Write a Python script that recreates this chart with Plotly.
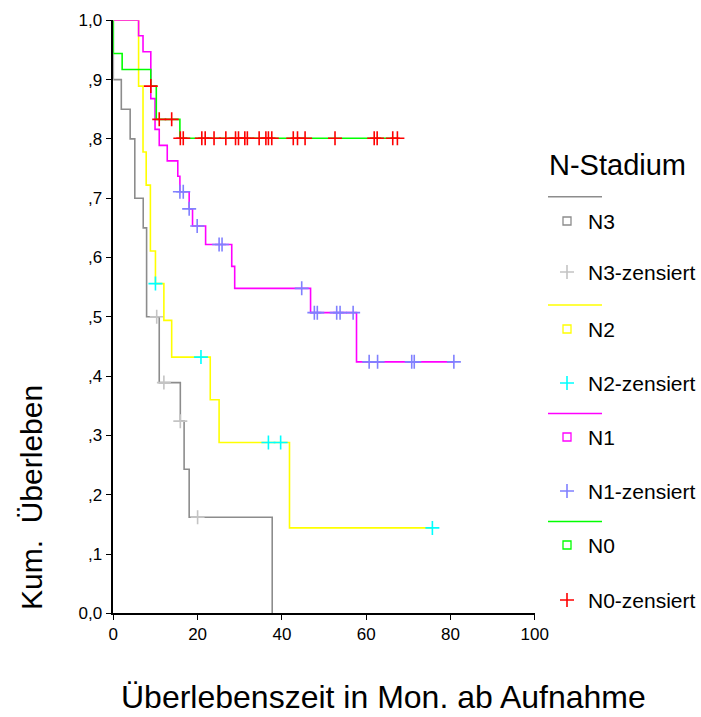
import plotly.graph_objects as go

# Kaplan-Meier estimates per N-stage: event times (months) and survival after each event
n3_times = [0.0, 1.9, 4.0, 5.1, 7.1, 7.9, 10.9, 15.9, 16.8, 18.0, 37.7]
n3_surv = [0.90, 0.85, 0.80, 0.70, 0.65, 0.50, 0.389, 0.324, 0.243, 0.162, 0.0]
n3_censored = [10.3, 12.0, 15.9, 20.0]

n2_times = [6.0, 7.05, 7.8, 8.8, 10.0, 12.0, 13.85, 23.0, 25.1, 41.8]
n2_surv = [0.889, 0.778, 0.722, 0.611, 0.556, 0.494, 0.432, 0.360, 0.288, 0.144]
n2_censored = [10.0, 20.8, 36.8, 39.7, 75.7]

n1_times = [6.0, 7.05, 8.9, 9.9, 10.9, 12.8, 15.3, 15.8, 18.0, 18.8, 21.9, 28.1, 28.8, 46.8, 57.7]
n1_surv = [0.974, 0.947, 0.868, 0.816, 0.789, 0.763, 0.737, 0.711, 0.682, 0.653, 0.622,
           0.585, 0.548, 0.507, 0.424]
n1_censored = [15.8, 16.6, 18.0, 19.9, 25.1, 25.8, 44.7, 47.7, 48.4, 53.0, 53.8, 56.9,
               60.7, 62.7, 70.8, 71.4, 80.8]

n0_times = [0.0, 2.1, 8.9, 10.2, 15.8]
n0_surv = [0.944, 0.917, 0.889, 0.833, 0.801]
n0_censored = [8.9, 10.9, 13.85, 15.9, 16.6, 21.0, 21.8, 23.9, 26.7, 29.0, 29.7, 31.2, 31.8,
               34.6, 36.2, 36.8, 37.6, 42.7, 43.7, 45.5, 52.6, 61.9, 62.6, 66.3, 67.4]

groups = ["N3", "N2", "N1", "N0"]
line_colors = ["#8c8c8c", "#ffff00", "#ff00ff", "#00ff00"]
censor_colors = ["#c4c4c4", "#00ffff", "#8080ff", "#ff0000"]
x_ticks = [0, 20, 40, 60, 80, 100]
y_ticks = [0.0, 0.1, 0.2, 0.3, 0.4, 0.5, 0.6, 0.7, 0.8, 0.9, 1.0]
y_ticktext = ["0,0", ",1", ",2", ",3", ",4", ",5", ",6", ",7", ",8", ",9", "1,0"]

data = {
    "N3": (n3_times, n3_surv, n3_censored),
    "N2": (n2_times, n2_surv, n2_censored),
    "N1": (n1_times, n1_surv, n1_censored),
    "N0": (n0_times, n0_surv, n0_censored),
}


def surv_at(t, times, surv):
    s = 1.0
    for ti, si in zip(times, surv):
        if ti <= t + 1e-9:
            s = si
    return s


W, H = 701, 717
# plot area in pixels
PX0, PX1 = 113.3, 534.8
PY_TOP, PY_BOT = 20.3, 613.3

FONT = "Liberation Sans, Arial, sans-serif"

fig = go.Figure()

for g, lc, cc in zip(groups, line_colors, censor_colors):
    times, surv, cens = data[g]
    end = max(times[-1], max(cens) if cens else 0)
    xs = [0.0] + times + [end]
    ys = [1.0] + surv + [surv[-1]]
    fig.add_trace(go.Scatter(
        x=xs, y=ys, mode="lines", line=dict(color=lc, width=1.6, shape="hv"),
        name=g, showlegend=False, hoverinfo="skip"))
    fig.add_trace(go.Scatter(
        x=cens, y=[surv_at(c, times, surv) for c in cens], mode="markers",
        marker=dict(symbol="cross-thin-open", size=10, color=cc, line=dict(color=cc, width=1.6)),
        name=g + "-zensiert", showlegend=False, cliponaxis=False))

# Legend drawn in a pixel-based overlay axis
leg_rows = [
    # (line y, square y, cross y)
    (196.7, 221.0, 272.0),
    (305.0, 329.0, 383.0),
    (413.5, 437.0, 491.0),
    (521.5, 545.0, 600.0),
]
for (ly, sy, cy), g, lc, cc in zip(leg_rows, groups, line_colors, censor_colors):
    fig.add_shape(type="line", xref="x2", yref="y2", x0=548, x1=602, y0=ly, y1=ly,
                  line=dict(color=lc, width=1.6))
    fig.add_trace(go.Scatter(
        x=[567], y=[sy], xaxis="x2", yaxis="y2", mode="markers",
        marker=dict(symbol="square-open", size=8, color=lc, line=dict(color=lc, width=1.3)),
        showlegend=False, hoverinfo="skip"))
    fig.add_trace(go.Scatter(
        x=[567], y=[cy], xaxis="x2", yaxis="y2", mode="markers",
        marker=dict(symbol="cross-thin-open", size=10, color=cc, line=dict(color=cc, width=1.6)),
        showlegend=False, hoverinfo="skip"))
    fig.add_annotation(x=586, y=sy, xref="x2", yref="y2", text=g, showarrow=False,
                       xanchor="left", yanchor="middle",
                       font=dict(family=FONT, size=21, color="black"))
    fig.add_annotation(x=586, y=cy, xref="x2", yref="y2", text=g + "-zensiert",
                       showarrow=False, xanchor="left", yanchor="middle",
                       font=dict(family=FONT, size=21, color="black"))

fig.add_annotation(x=617, y=165, xref="x2", yref="y2", text="N-Stadium", showarrow=False,
                   xanchor="center", yanchor="middle",
                   font=dict(family=FONT, size=29, color="black"))
fig.add_annotation(x=383, y=697, xref="x2", yref="y2",
                   text="Überlebenszeit in Mon. ab Aufnahme", showarrow=False,
                   xanchor="center", yanchor="middle",
                   font=dict(family=FONT, size=32, color="black"))
fig.add_annotation(x=31, y=498, xref="x2", yref="y2", text="Kum.  Überleben",
                   showarrow=False, textangle=-90, xanchor="center", yanchor="middle",
                   font=dict(family=FONT, size=30, color="black"))

fig.update_layout(
    width=W, height=H,
    margin=dict(l=0, r=0, t=0, b=0, pad=0, autoexpand=False),
    paper_bgcolor="white", plot_bgcolor="rgba(0,0,0,0)",
    xaxis=dict(domain=[PX0 / W, PX1 / W], range=[0, 100], tickvals=x_ticks,
               showgrid=False, zeroline=False, showline=True, linecolor="black",
               linewidth=1.5, ticks="outside", ticklen=5, tickcolor="black",
               tickfont=dict(family=FONT, size=17, color="black"), anchor="y",
               automargin=False),
    yaxis=dict(domain=[(H - PY_BOT) / H, (H - PY_TOP) / H], range=[0, 1],
               tickvals=y_ticks, ticktext=y_ticktext,
               showgrid=False, zeroline=False, showline=True, linecolor="black",
               linewidth=1.5, ticks="outside", ticklen=6, tickcolor="black",
               tickfont=dict(family=FONT, size=17, color="black"), anchor="x",
               automargin=False),
    xaxis2=dict(domain=[0, 1], range=[0, W], visible=False, anchor="y2", automargin=False),
    yaxis2=dict(domain=[0, 1], range=[H, 0], visible=False, anchor="x2", automargin=False),
)

fig.write_html("out.html")
